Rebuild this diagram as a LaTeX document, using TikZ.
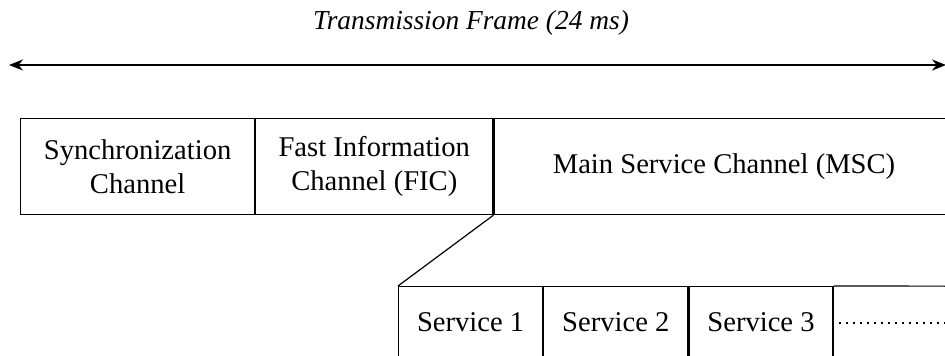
\documentclass[tikz,border=0pt]{standalone}
\usepackage{fontspec}
\setmainfont{Liberation Serif}
\usetikzlibrary{positioning,arrows.meta}

\begin{document}
\begin{tikzpicture}[x=0.5pt, y=-0.5pt, >={Stealth[length=7pt,width=5.5pt]},
    field/.style={draw, rectangle, line width=0.6pt, minimum height=48pt, inner sep=0pt, text centered, align=center, font=\fontsize{14.3}{17}\selectfont},
    service/.style={draw, rectangle, line width=0.6pt, minimum width=72pt, minimum height=36pt, inner sep=0pt, font=\fontsize{14.3}{17}\selectfont}]
    \useasboundingbox (0,0) rectangle (945,356);
    \node[anchor=base, font=\fontsize{13.7}{16}\selectfont\itshape] (title) at (471,30) {Transmission Frame (24 ms)};
    \coordinate (fl) at (9,65);
    \coordinate (fr) at (946,65);
    \draw[<->, line width=1pt] (fl) -- (fr);

    \node[field, minimum width=117pt, anchor=north west] (sync) at (20,118) {Synchronization\\Channel};
    \node[field, minimum width=118.5pt, right=0pt of sync] (fic) {Fast Information\\Channel (FIC)};
    \node[field, minimum width=230pt, right=0pt of fic] (msc) {Main Service Channel (MSC)};

    \node[service, anchor=north west] (s1) at (398,286) {Service 1};
    \node[service, right=0pt of s1] (s2) {Service 2};
    \node[service, right=0pt of s2] (s3) {Service 3};
    \node[minimum width=72pt, minimum height=36pt, inner sep=0pt, right=0pt of s3] (more) {};

    \draw[line width=0.6pt] (msc.south west) -- (s1.north west);
    \draw[line width=0.6pt] (s3.north east) -- (more.north east);
    \draw[line width=1pt, dash pattern=on 1pt off 2.5pt] ([xshift=2.5pt]s3.east) -- (more.east);
\end{tikzpicture}
\end{document}
